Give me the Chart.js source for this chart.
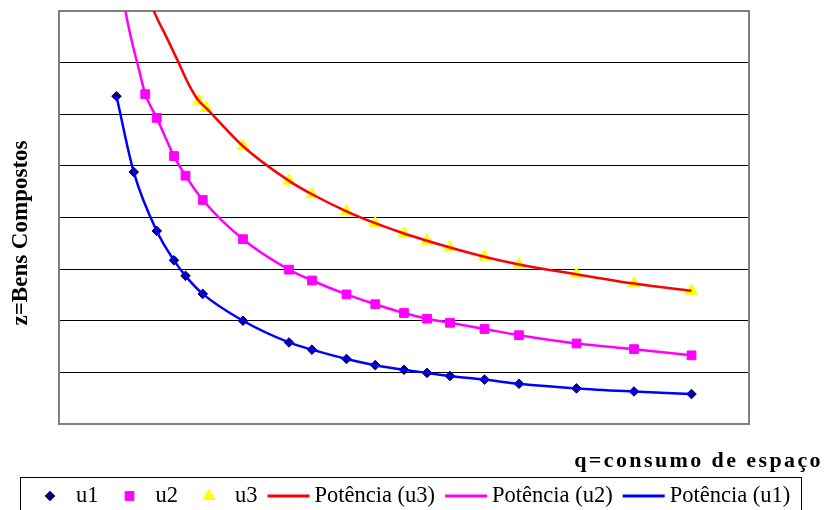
<!DOCTYPE html>
<html lang="pt">
<head>
<meta charset="UTF-8">
<title>Curvas de indiferença</title>
<script src="https://cdn.jsdelivr.net/npm/chart.js"></script>
<style>
  html, body { margin: 0; padding: 0; background: #fff; }
  #wrap { position: relative; width: 824px; height: 510px; }
</style>
</head>
<body>
<div id="wrap"><canvas id="grafico" width="824" height="510"></canvas></div>
<script>
// q = consumo de espaço (eixo x), z = bens compostos (eixo y)
const q1 = [1, 1.3, 1.7, 2, 2.2, 2.5, 3.2, 4, 4.4, 5, 5.5, 6, 6.4, 6.8, 7.4, 8, 9, 10, 11];
const z1 = [63.5, 48.8, 37.4, 31.7, 28.7, 25.2, 20.0, 15.8, 14.4, 12.6, 11.4, 10.5, 9.9, 9.3, 8.6, 7.8, 6.9, 6.3, 5.8];

const q2 = [1.5, 1.7, 2, 2.2, 2.5, 3.2, 4, 4.4, 5, 5.5, 6, 6.4, 6.8, 7.4, 8, 9, 10, 11];
const z2 = [63.9, 59.3, 51.9, 48.1, 43.4, 35.8, 29.9, 27.8, 25.1, 23.2, 21.5, 20.4, 19.6, 18.4, 17.2, 15.6, 14.5, 13.3];

const q3 = [2.43, 2.56, 3.2, 4, 4.4, 5, 5.5, 6, 6.4, 6.8, 7.4, 8, 9, 10, 11];
const z3 = [62.6, 61.2, 53.8, 47.1, 44.5, 41.2, 38.9, 36.9, 35.5, 34.2, 32.4, 30.9, 29.0, 27.2, 25.8];

// a linha de potência de u2 e u3 continua acima do primeiro ponto (sai pelo topo)
const tq2 = [1.0, 1.156, 1.30, 1.39];
const tz2 = [92, 80, 72.6, 68.7];
const tq3 = [1.4, 1.65, 1.88, 2.08, 2.26];
const tz3 = [88, 80, 74.7, 70, 65.7];

const rotulos = ['u1', 'u2', 'u3', 'Potência (u3)', 'Potência (u2)', 'Potência (u1)'];
const tituloY = 'z=Bens Compostos';
const tituloX = 'q=consumo de espaço';

const pares = (xs, ys) => xs.map((x, i) => ({ x: x, y: ys[i] }));

const serif = '"Liberation Serif", "Times New Roman", serif';

// moldura cinza da área do gráfico
const moldura = {
  id: 'moldura',
  beforeDatasetsDraw(chart) {
    const { ctx, chartArea: a } = chart;
    ctx.save();
    ctx.strokeStyle = '#808080';
    ctx.lineWidth = 2;
    ctx.strokeRect(a.left, a.top, a.right - a.left, a.bottom - a.top);
    ctx.restore();
  }
};

// títulos dos eixos e legenda com caixa
const textos = {
  id: 'textos',
  afterDraw(chart) {
    const ctx = chart.ctx;

    ctx.save();
    ctx.fillStyle = '#000';
    ctx.font = 'bold 23px ' + serif;
    ctx.textAlign = 'center';
    ctx.textBaseline = 'alphabetic';
    ctx.translate(27, 233);
    ctx.rotate(-Math.PI / 2);
    ctx.fillText(tituloY, 0, 0);
    ctx.restore();

    ctx.save();
    ctx.fillStyle = '#000';
    ctx.font = 'bold 22px ' + serif;
    ctx.letterSpacing = '2.4px';
    ctx.textAlign = 'right';
    ctx.fillText(tituloX, 823, 467);
    ctx.restore();

    ctx.save();
    ctx.strokeStyle = '#000';
    ctx.lineWidth = 1;
    ctx.strokeRect(20.5, 477.5, 781, 40);
    ctx.font = '22.5px ' + serif;
    ctx.textBaseline = 'alphabetic';
    let x = 29;
    const y = 496;
    chart.data.datasets.forEach(ds => {
      if (ds.showLine) {
        ctx.strokeStyle = ds.borderColor;
        ctx.lineWidth = 3;
        ctx.beginPath();
        ctx.moveTo(x, y);
        ctx.lineTo(x + 42, y);
        ctx.stroke();
      } else {
        ctx.fillStyle = ds.backgroundColor;
        ctx.strokeStyle = ds.borderColor;
        ctx.lineWidth = 1;
        Chart.helpers.drawPoint(ctx, {
          pointStyle: ds.pointStyle,
          radius: ds.pointRadius,
          rotation: 0,
          borderWidth: 1
        }, x + 21, y);
      }
      ctx.fillStyle = '#000';
      ctx.fillText(ds.label, x + 47, 502);
      x += 47 + ctx.measureText(ds.label).width + 10;
    });
    ctx.restore();
  }
};

const marcador = (label, q, z, cor, estilo, raio) => ({
  label: label,
  data: pares(q, z),
  showLine: false,
  pointStyle: estilo,
  pointRadius: raio,
  pointBorderWidth: 1,
  backgroundColor: cor,
  borderColor: cor,
  order: 1
});

const potencia = (label, pontos, cor) => ({
  label: label,
  data: pontos,
  showLine: true,
  pointRadius: 0,
  borderWidth: 2.5,
  borderColor: cor,
  backgroundColor: cor,
  fill: false,
  cubicInterpolationMode: 'monotone',
  order: 0
});

new Chart(document.getElementById('grafico'), {
  type: 'scatter',
  data: {
    datasets: [
      marcador(rotulos[0], q1, z1, '#000080', 'rectRot', 4.8),
      marcador(rotulos[1], q2, z2, '#FF00FF', 'rect', 6.2),
      marcador(rotulos[2], q3, z3, '#FFFF00', 'triangle', 6.8),
      potencia(rotulos[3], pares(tq3, tz3).concat(pares(q3, z3)), '#FF0000'),
      potencia(rotulos[4], pares(tq2, tz2).concat(pares(q2, z2)), '#FF00FF'),
      potencia(rotulos[5], pares(q1, z1), '#0000FF')
    ]
  },
  options: {
    responsive: false,
    animation: false,
    layout: { padding: { left: 59, right: 75, top: 11, bottom: 86 } },
    plugins: {
      legend: { display: false },
      tooltip: { enabled: false }
    },
    scales: {
      x: {
        type: 'linear',
        min: 0,
        max: 12,
        ticks: { display: false },
        grid: { display: false, drawTicks: false },
        border: { display: false }
      },
      y: {
        min: 0,
        max: 80,
        ticks: { display: false, stepSize: 10 },
        grid: {
          drawTicks: false,
          lineWidth: 1,
          color: c => (c.tick && (c.tick.value === 0 || c.tick.value === 80)) ? 'rgba(0,0,0,0)' : '#000'
        },
        border: { display: false }
      }
    }
  },
  plugins: [moldura, textos]
});
</script>
</body>
</html>
